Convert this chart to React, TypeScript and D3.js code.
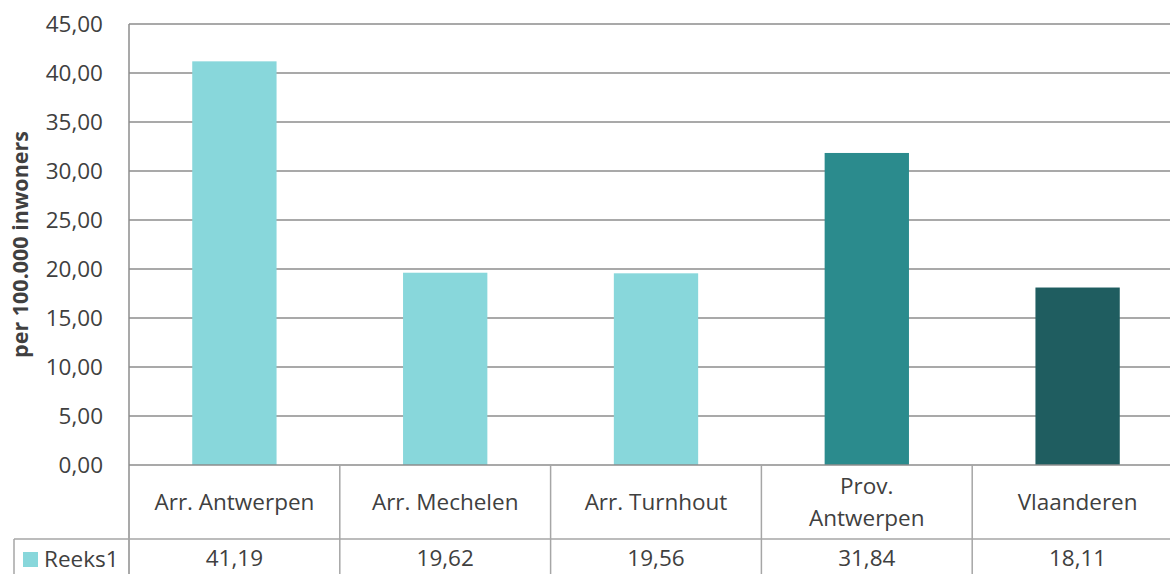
import React from "react";
import * as d3 from "d3";

// chart data
const categories = ["Arr. Antwerpen", "Arr. Mechelen", "Arr. Turnhout", "Prov. Antwerpen", "Vlaanderen"];
const categoryLines = [["Arr. Antwerpen"], ["Arr. Mechelen"], ["Arr. Turnhout"], ["Prov.", "Antwerpen"], ["Vlaanderen"]];
const values = [41.19, 19.62, 19.56, 31.84, 18.11];
const barColors = ["#88D7DB", "#88D7DB", "#88D7DB", "#2B8B8D", "#1F5D60"];
const seriesName = "Reeks1";
const yTicks = [0, 5, 10, 15, 20, 25, 30, 35, 40, 45];
const yLabel = "per 100.000 inwoners";

const nl = d3.formatLocale({ decimal: ",", thousands: ".", grouping: [3], currency: ["", ""] });
const fmt = nl.format(".2f");

const W = 1170;
const H = 574;
const left = 129;
const right = 1183;
const top = 24;
const zeroY = 465;
const rowY = 539;
const legendLeft = 14;
const font = "'Open Sans', sans-serif";
const fs = 22.5;
const textColor = "#404040";
const lineColor = "#8c8c8c";
const tableColor = "#a6a6a6";

export default function App() {
  const x = d3.scaleBand<string>().domain(categories).range([left, right]).paddingInner(0).paddingOuter(0);
  const y = d3.scaleLinear().domain([0, 45]).range([zeroY, top]);
  const bw = x.bandwidth() / 2.5;

  return (
    <svg width={W} height={H} style={{ position: "absolute", left: 0, top: 0, background: "#fff" }}>
      {/* gridlines */}
      {yTicks.filter(t => t > 0).map(t => (
        <line key={t} x1={left} x2={right} y1={y(t)} y2={y(t)} stroke={lineColor} strokeWidth={1.5} />
      ))}
      {/* bars */}
      {categories.map((c, i) => (
        <rect
          key={c}
          x={(x(c) as number) + x.bandwidth() / 2 - bw / 2}
          y={y(values[i])}
          width={bw}
          height={zeroY - y(values[i])}
          fill={barColors[i]}
        />
      ))}
      {/* y tick labels */}
      {yTicks.map(t => (
        <text key={t} x={103} y={y(t)} dy="0.36em" textAnchor="end" fontFamily={font} fontSize={fs} fill={textColor}>
          {fmt(t)}
        </text>
      ))}
      <text
        transform={`translate(28, ${(top + zeroY) / 2}) rotate(-90)`}
        textAnchor="middle"
        fontFamily={font}
        fontSize={21.5}
        fontWeight="bold"
        fill={textColor}
      >
        {yLabel}
      </text>
      {/* data table */}
      <line x1={left} x2={left} y1={top} y2={H} stroke={lineColor} strokeWidth={1.5} />
      <line x1={left} x2={right} y1={zeroY} y2={zeroY} stroke={lineColor} strokeWidth={1.5} />
      <line x1={legendLeft} x2={right} y1={rowY} y2={rowY} stroke={tableColor} strokeWidth={1.5} />
      <line x1={legendLeft} x2={legendLeft} y1={rowY} y2={H} stroke={tableColor} strokeWidth={1.5} />
      {categories.map(c => (
        <line key={c} x1={(x(c) as number) + x.bandwidth()} x2={(x(c) as number) + x.bandwidth()} y1={zeroY} y2={H} stroke={tableColor} strokeWidth={1.5} />
      ))}
      {categories.map((c, i) => {
        const lines = categoryLines[i];
        const cx = (x(c) as number) + x.bandwidth() / 2;
        const mid = (zeroY + rowY) / 2;
        return (
          <text key={c} x={cx} textAnchor="middle" fontFamily={font} fontSize={fs} fill={textColor}>
            {lines.map((l, j) => (
              <tspan key={j} x={cx} y={mid + (j - (lines.length - 1) / 2) * 32} dy="0.36em">{l}</tspan>
            ))}
          </text>
        );
      })}
      {values.map((v, i) => (
        <text key={i} x={(x(categories[i]) as number) + x.bandwidth() / 2} y={558} dy="0.36em" textAnchor="middle" fontFamily={font} fontSize={fs} fill={textColor}>
          {fmt(v)}
        </text>
      ))}
      <rect x={23} y={552} width={15} height={15} fill={barColors[0]} />
      <text x={44} y={559} dy="0.36em" fontFamily={font} fontSize={fs} fill={textColor}>{seriesName}</text>
    </svg>
  );
}
